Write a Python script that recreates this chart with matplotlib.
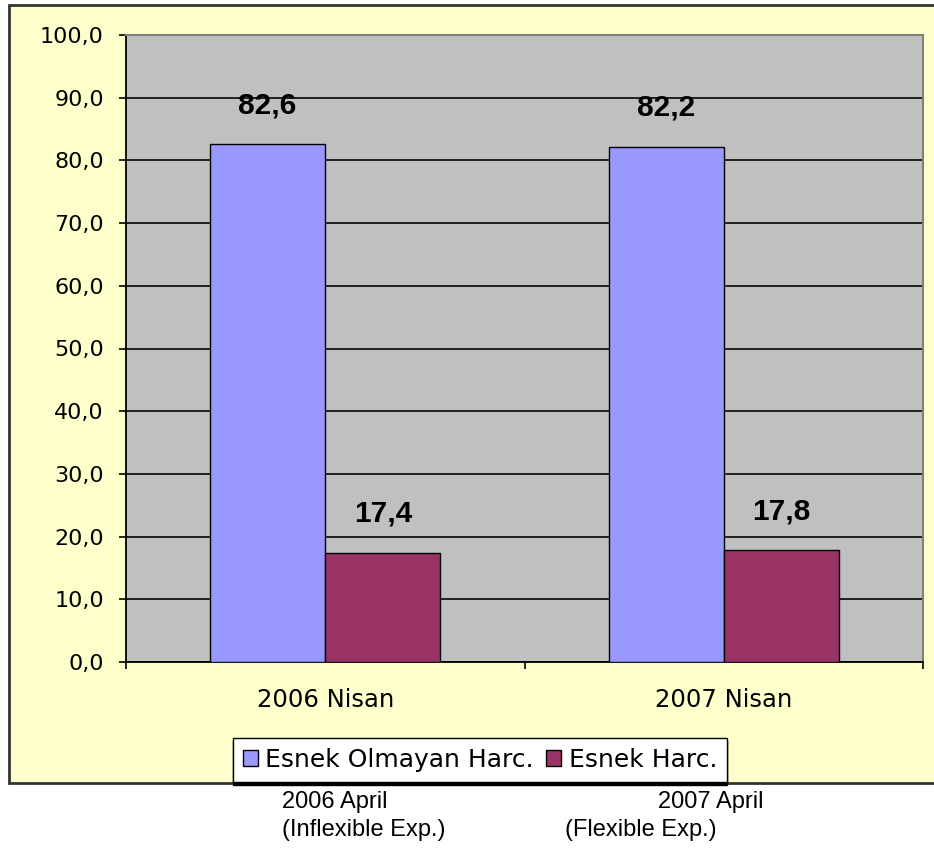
import matplotlib.pyplot as plt
from matplotlib.patches import Rectangle
import numpy as np

# survey results (percent of total expenditure)
periods = ['2006 Nisan', '2007 Nisan']
inflexible = [82.6, 82.2]
flexible = [17.4, 17.8]
series_names = ['Esnek Olmayan Harc.', 'Esnek Harc.']
yticks = [0, 10, 20, 30, 40, 50, 60, 70, 80, 90, 100]

fig = plt.figure(figsize=(9.34, 8.48), dpi=100)
fig.patch.set_facecolor('white')

# pale yellow chart frame
frame = Rectangle((9 / 934, 1 - 783 / 848), 1.0, (783 - 5) / 848,
                  transform=fig.transFigure, facecolor='#FFFFCC',
                  edgecolor='#333333', linewidth=2, zorder=-5)
fig.patches.append(frame)

ax = fig.add_axes([126 / 934, 1 - 662 / 848, (923 - 126) / 934, (662 - 35) / 848])
ax.set_facecolor('#C0C0C0')

x = np.arange(len(periods))
w = 0.289
b1 = ax.bar(x - w / 2, inflexible, w, color='#9999FF', edgecolor='black',
            linewidth=1, label=series_names[0], zorder=3)
b2 = ax.bar(x + w / 2, flexible, w, color='#993366', edgecolor='black',
            linewidth=1, label=series_names[1], zorder=3)

for bars in (b1, b2):
    for r in bars:
        v = r.get_height()
        ax.annotate(f'{v:.1f}'.replace('.', ','),
                    (r.get_x() + r.get_width() / 2, v),
                    xytext=(0, 18), textcoords='offset points',
                    ha='center', va='bottom', fontsize=21.5, fontweight='bold',
                    family='Liberation Sans')

ax.set_ylim(0, 100)
ax.set_xlim(-0.5, 1.5)
ax.set_yticks(yticks)
ax.set_yticklabels([f'{t:.1f}'.replace('.', ',') for t in yticks],
                   fontsize=16, family='DejaVu Sans')
ax.yaxis.grid(True, color='#202020', linewidth=1.4, zorder=1)
ax.set_axisbelow(True)
ax.tick_params(axis='y', direction='out', length=5, width=1.2, pad=11)

# category boundaries as major ticks, category names as minor ticks
ax.set_xticks([-0.5, 0.5, 1.5])
ax.set_xticklabels([])
ax.set_xticks(x, minor=True)
ax.set_xticklabels(periods, minor=True, fontsize=17.5, family='DejaVu Sans')
ax.tick_params(axis='x', which='major', direction='out', length=5, width=1.2)
ax.tick_params(axis='x', which='minor', length=0, pad=19)

for s in ('left', 'bottom'):
    ax.spines[s].set_color('black')
    ax.spines[s].set_linewidth(1.3)
for s in ('top', 'right'):
    ax.spines[s].set_color('#808080')
    ax.spines[s].set_linewidth(1.5)

leg = fig.legend(loc='center', bbox_to_anchor=(480 / 934, 1 - 760 / 848),
                 ncol=2, prop={'family': 'DejaVu Sans', 'size': 18},
                 frameon=True, fancybox=False, edgecolor='black',
                 handlelength=0.6, handleheight=0.6, handletextpad=0.3,
                 columnspacing=0.5, borderpad=0.4,
                 shadow={'ox': 0, 'oy': -2, 'color': 'black', 'alpha': 1})
leg.get_frame().set_linewidth(1)
leg.get_frame().set_facecolor('white')

# English captions below the chart
cap = dict(fontsize=17, family='Liberation Sans', ha='left', va='baseline')
fig.text(282 / 934, 1 - 808 / 848, '2006 April', **cap)
fig.text(282 / 934, 1 - 836 / 848, '(Inflexible Exp.)', **cap)
fig.text(658 / 934, 1 - 808 / 848, '2007 April', **cap)
fig.text(565 / 934, 1 - 836 / 848, '(Flexible Exp.)', **cap)

fig.savefig('out.png', dpi=100)
